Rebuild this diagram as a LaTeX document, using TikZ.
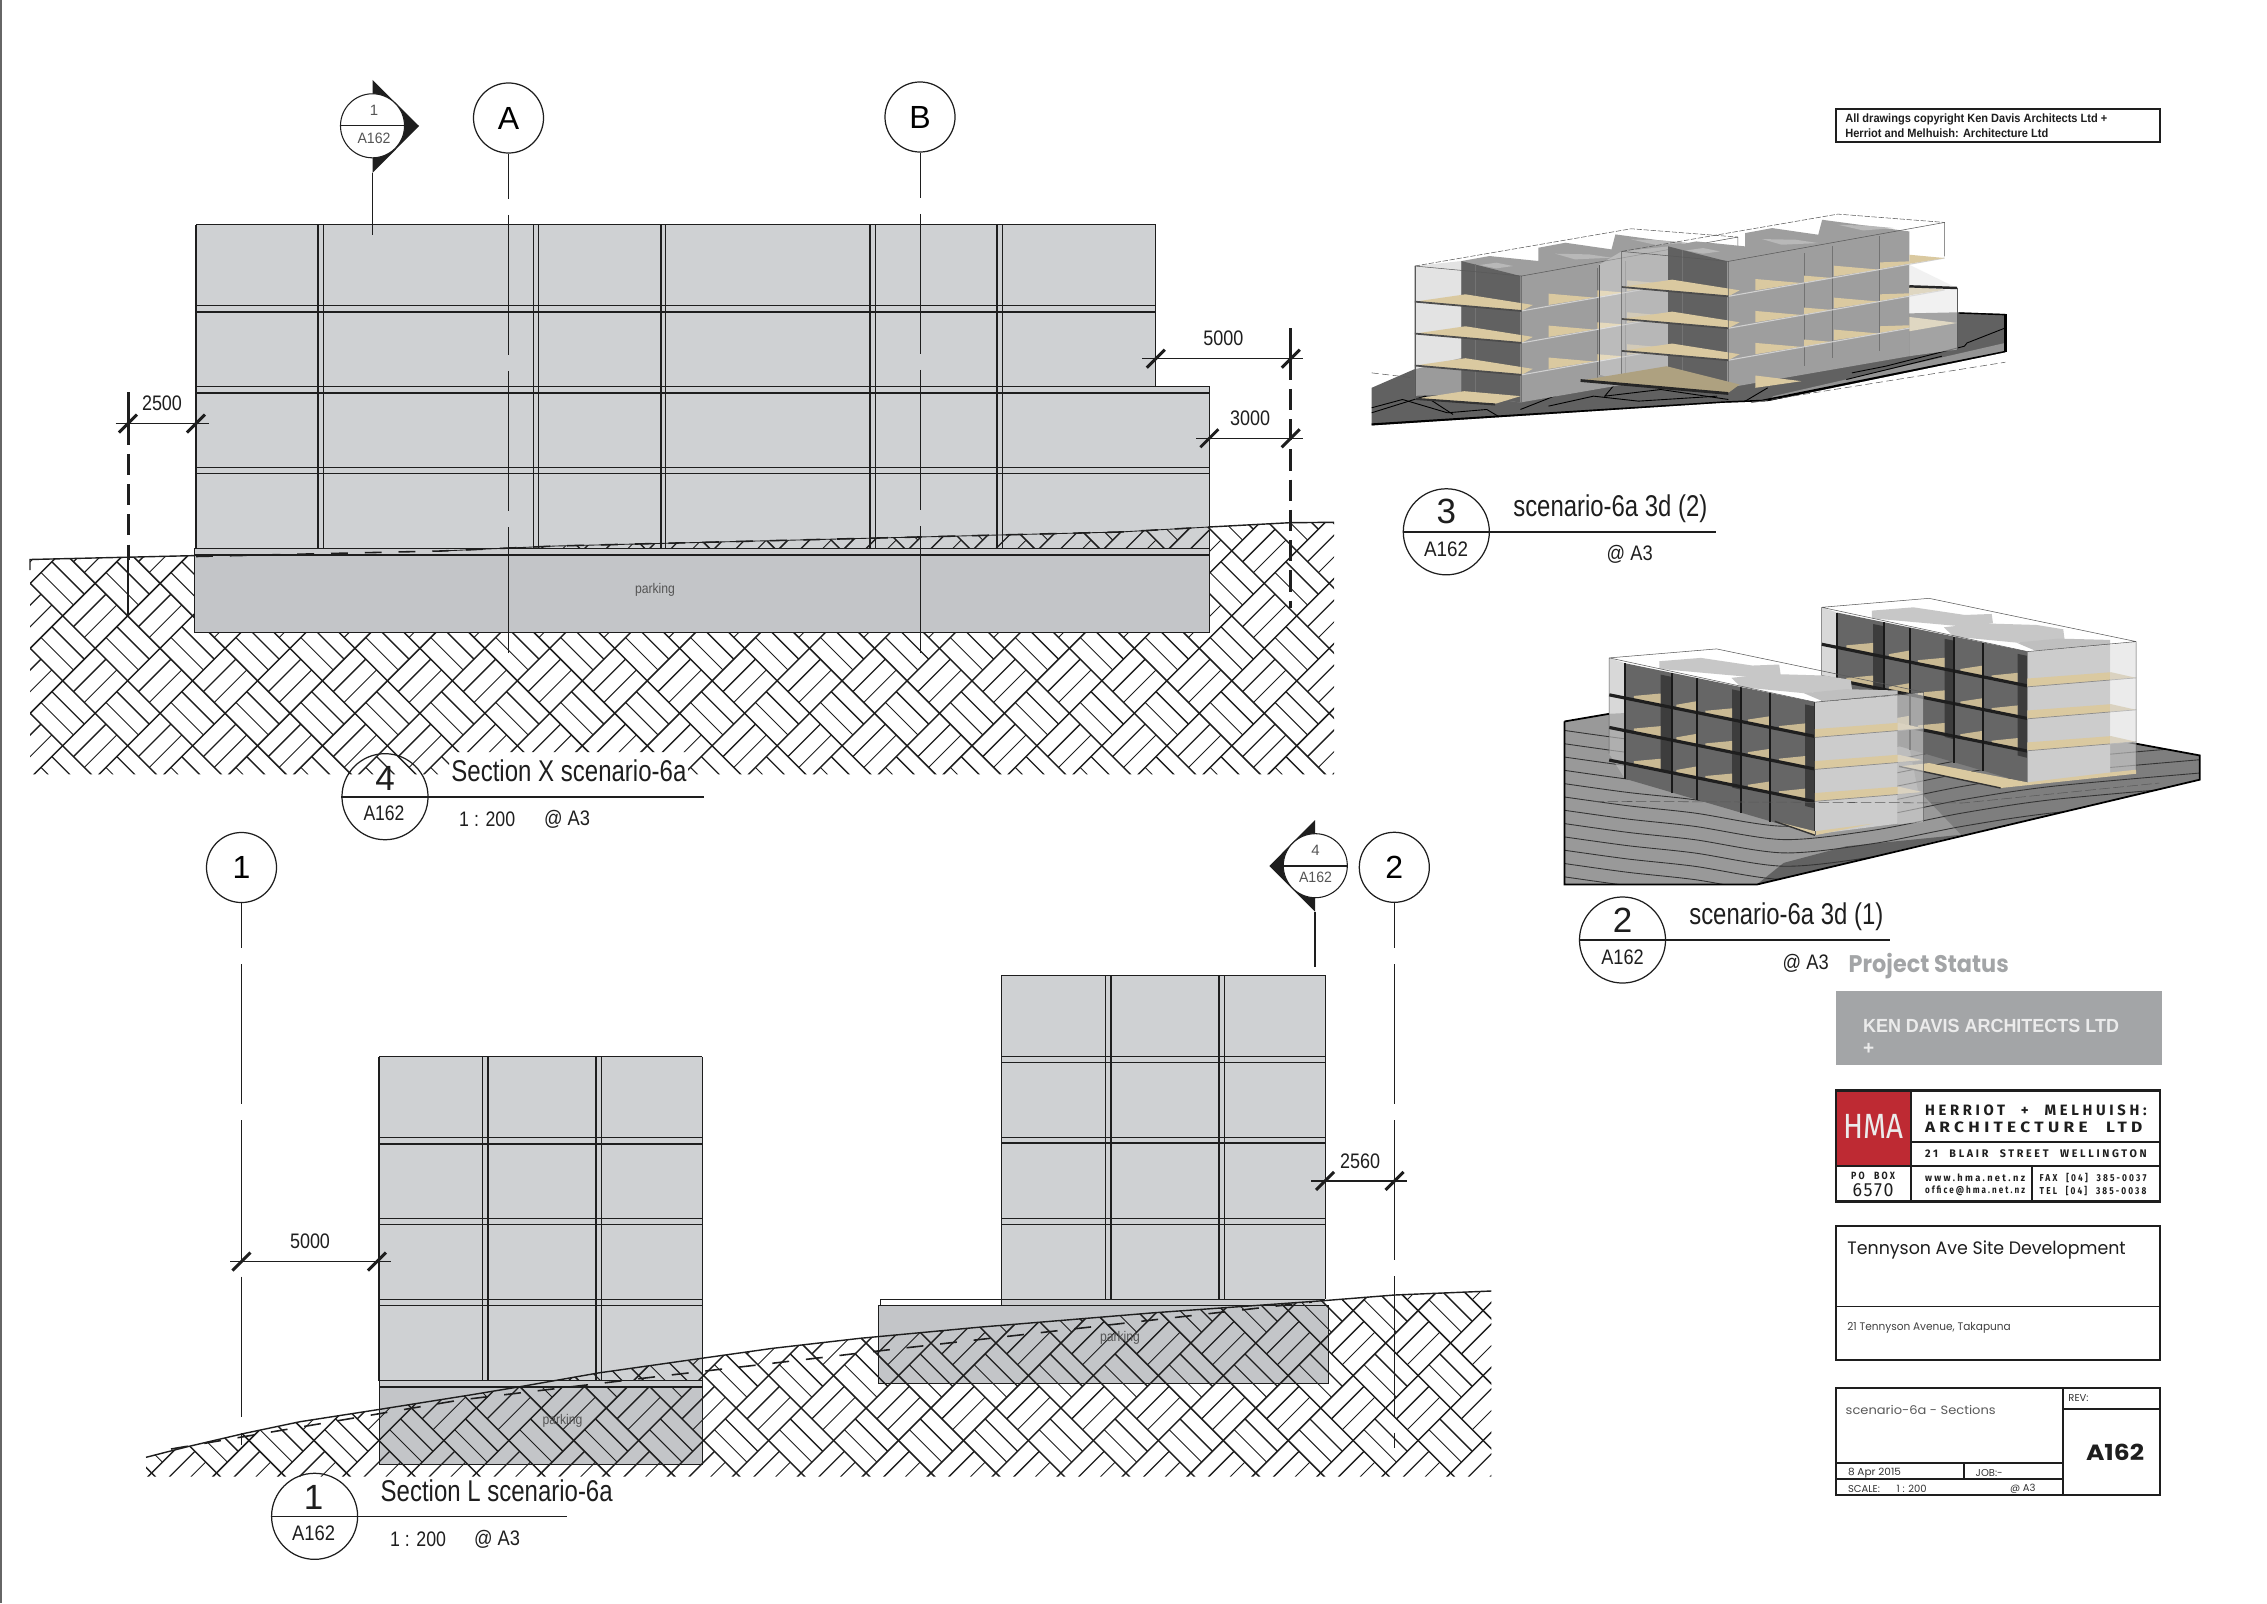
\documentclass[tikz,border=0pt]{standalone}
\usepackage{fontspec}
\usepackage{graphicx}
\setmainfont{Liberation Sans}
\newfontfamily\goth{Poppins}
\newfontfamily\hmawide[LetterSpace=25,WordSpace=2.2]{Fira Sans}
\newfontfamily\hmaplain[LetterSpace=10]{Fira Sans}
\newfontfamily\hmalogo{Fira Sans}
\newlength\fwunit \setlength\fwunit{0.01cm}
\newcommand\fitw[2]{\resizebox{#1\fwunit}{\height}{#2}}
\newcommand\fs[1]{\pgfmathsetmacro\fsz{#1*0.2845}\fontsize{\fsz pt}{\fsz pt}\selectfont}
\definecolor{wallgray}{HTML}{CFD1D3}
\definecolor{parkgray}{HTML}{C3C5C8}
\definecolor{slabgray}{HTML}{CCCDCF}
\definecolor{inkk}{HTML}{1E1E1E}
\definecolor{tanfloor}{HTML}{DAC9A0}
\definecolor{graybox}{HTML}{A3A5A7}
\definecolor{hmared}{HTML}{BE2A33}
\definecolor{lightink}{HTML}{555555}
\tikzset{
 thinl/.style={line width=0.28pt,draw=inkk},
 medl/.style={line width=0.45pt,draw=inkk},
 heavyl/.style={line width=0.8pt,draw=inkk},
 gridline/.style={line width=0.26pt,draw=inkk,dash pattern=on 39.8pt off 4.6pt,dash phase=27pt},
 witness/.style={line width=0.8pt,draw=inkk,dash pattern=on 6pt off 2.6pt},
 dimline/.style={line width=0.4pt,draw=inkk},
 tickl/.style={line width=0.85pt,draw=inkk},
 gbubble/.style={circle,draw=inkk,line width=0.35pt,fill=white,minimum size=0.7cm,inner sep=0pt,font=\fs{32}},
 tbubble/.style={circle,draw=inkk,line width=0.35pt,minimum size=0.86cm,inner sep=0pt},
 lbl/.style={inner sep=0pt,text=inkk,anchor=west,yshift=-0.35pt},
 ctr/.style={inner sep=0pt,text=inkk,anchor=center},
 groundl/.style={line width=0.4pt,draw=inkk},
 dashg/.style={line width=0.45pt,draw=inkk,dash pattern=on 4.8pt off 4.8pt},
 wire/.style={line width=0.15pt,draw=black!65},
}
% basket-weave earth hatch
\newcommand\basket[8]{% x0 y0 imin imax jmin jmax ymin ymax
 \foreach \i in {#3,...,#4}{\foreach \j in {#5,...,#6}{
  \pgfmathsetmacro\cx{#1+64.95*\i}\pgfmathsetmacro\cy{#2+64.95*\j}
  \foreach \k/\w in {1/0.38pt,2/0.26pt}{
   \pgfmathsetmacro\o{\k*10.825}
   \draw[line width=\w,inkk] (\cx-32.475+\o,\cy+\o) -- (\cx+\o,\cy-32.475+\o);
   \draw[line width=\w,inkk] (\cx+32.475-\o,\cy+\o) -- (\cx+64.95-\o,\cy+32.475+\o);
  }
 }}
 \pgfmathsetmacro\cbase{#1+#2-32.475}\pgfmathsetmacro\dbase{#1-#2+32.475}
 \foreach \n in {-30,...,40}{
   \pgfmathsetmacro\cc{\cbase+64.95*\n}\pgfmathsetmacro\dd{\dbase+64.95*\n}
   \draw[line width=0.42pt,inkk] (\cc-#7,#7) -- (\cc-#8,#8);
   \draw[line width=0.42pt,inkk] (\dd+#7,#7) -- (\dd+#8,#8);
 }
}
% view 3 block
\newcommand\vthree{%
 \fill[black!20,opacity=.55] (430,515) -- (513,500) -- (513,900) -- (430,905) -- cycle;
 \fill[fill=black!38] (513,500) -- (563,485) -- (650,500) -- (650,460) -- (698,445) -- (780,465) -- (787,420) -- (942,455) -- (942,830) -- (618,925) -- (513,900) -- cycle;
 \fill[fill=black!62] (513,500) -- (618,545) -- (618,925) -- (513,900) -- cycle;
 \fill[fill=black!28] (545,512) -- (575,505) -- (605,515) -- (575,522) -- cycle;
 \fill[fill=black!28] (680,478) -- (740,480) -- (780,490) -- (715,495) -- cycle;
 \fill[fill=black!28] (815,435) -- (870,438) -- (915,445) -- (860,452) -- cycle;
 \draw[line width=.15pt,black!55] (538,510) -- (538,915) (755,520) -- (755,860) (805,500) -- (805,835) (888,470) -- (888,815);
 \foreach \dy in {0,96,192}{
  \fill[tanfloor] (430,622+\dy) -- (520,600+\dy) -- (640,632+\dy) -- (620,650+\dy) -- cycle;
  \draw[line width=.5pt,black!70] (430,622+\dy) -- (620,650+\dy);
  \fill[tanfloor] (668,598+\dy) -- (750,610+\dy) -- (668,632+\dy) -- cycle;
  \fill[tanfloor] (755,588+\dy) -- (805,595+\dy) -- (755,608+\dy) -- cycle;
  \fill[tanfloor] (808,558+\dy) -- (890,570+\dy) -- (808,590+\dy) -- cycle;
  \fill[tanfloor] (890,548+\dy) -- (942,545+\dy) -- (942,552+\dy) -- (890,568+\dy) -- cycle;
  \draw[line width=.3pt,black!18] (620,650+\dy) -- (1005,535+\dy);
 }
 \foreach \dy in {0,95}{\fill[tanfloor] (942,525+\dy) -- (1005,535+\dy) -- (942,552+\dy) -- cycle;}
 \draw[wire,dash pattern=on 1.5pt off .5pt] (430,515) -- (815,403) -- (1005,428);
 \draw[wire] (430,515) -- (620,545) -- (1005,428) (620,545) -- (620,925) (430,515) -- (430,905) (1005,428) -- (1005,530);
}
% view 2 block
\newcommand\vtwo{%
 \fill[black!25,opacity=.6] (585,52) -- (620,68) -- (620,415) -- (585,340) -- cycle;
 \fill[black!60] (620,68) -- (1045,185) -- (1045,582) -- (620,415) -- cycle;
 \foreach \a/\b in {700/725,860/880,1023/1045}{
   \fill[black!76] (\a,{68+(\a-620)*.2776+12}) -- (\b,{68+(\b-620)*.2776+12}) -- (\b,{360+(\b-620)*.34}) -- (\a,{360+(\a-620)*.34}) -- cycle;
 }
 \foreach \dy in {0,98,196}{
  \foreach \a/\b in {640/700,735/782,800/860,895/945,965/1023}{
    \fill[tanfloor!92!black] (\a,{163+\dy+(\a-585)*.2783-12}) -- (\b,{163+\dy+(\b-585)*.2783-36}) -- (\b,{163+\dy+(\b-585)*.2783}) -- (\a,{163+\dy+(\a-585)*.2783}) -- cycle;
  }
 }
 \foreach \dy in {0,98,196}{
  \draw[line width=.9pt,black!88] (585,163+\dy) -- (1045,288+\dy);
 }
 \foreach \m in {620,725,782,880,945,1045}{
  \draw[line width=.55pt,black!90] (\m,{68+(\m-620)*.2776}) -- (\m,{415+(\m-620)*.4});
 }
 \fill[black!20] (1045,185) -- (1230,165) -- (1230,550) -- (1045,582) -- cycle;
 \fill[black!22] (697,62) -- (790,52) -- (905,75) -- (965,72) -- (968,100) -- (905,110) -- (697,85) -- cycle;
 \fill[black!22] (858,112) -- (940,100) -- (1065,105) -- (1125,118) -- (1128,150) -- (1020,158) -- (880,140) -- cycle;
 \fill[black!25] (1020,158) -- (1115,146) -- (1230,150) -- (1230,165) -- (1062,182) -- cycle;
 \foreach \dy in {0,96,192}{
  \fill[tanfloor] (1045,266+\dy) -- (1232,247+\dy) -- (1288,264+\dy) -- (1045,291+\dy) -- cycle;
  \draw[line width=.2pt,black!45] (1045,291+\dy) -- (1288,264+\dy);
 }
 \fill[black!14,opacity=.55] (1230,165) -- (1288,155) -- (1288,545) -- (1230,552) -- cycle;
 \draw[wire] (585,52) -- (825,25) -- (1288,155) -- (1288,545) (585,52) -- (1045,185) -- (1288,155) (585,52) -- (585,340);
}
\begin{document}
\begin{tikzpicture}[x=0.01cm,y=-0.01cm]
\useasboundingbox (0,0) rectangle (2267,1603);
\fill[white] (0,0) rectangle (2267,1603);
\draw[line width=.4pt,black!60] (1,0) -- (1,1603);

%%%%%%%%%%%%%%% Section X
\fill[wallgray] (196,224.5) -- (1155.7,224.5) -- (1155.7,386.3) -- (1209.5,386.3) -- (1209.5,548.3) -- (196,548.3) -- cycle;
\foreach \a in {305.3,386.8,467.6}{\draw[thinl] (196,\a) -- (1155.7,\a);}
\foreach \a in {311.8}{\draw[medl] (196,\a) -- (1155.7,\a);}
\foreach \a in {393,473.7}{\draw[medl] (196,\a) -- (1209.5,\a);}
\draw[thinl] (1155.7,467.6) -- (1209.5,467.6);
\foreach \a/\b in {318/323.2,533.6/538.2,660.7/665,870/875,997/1002}{
 \draw[medl] (\a,224.5) -- (\a,548.3);
 \draw[thinl] (\b,224.5) -- (\b,548.3);
}
\draw[thinl] (196,224.5) -- (1155.7,224.5) -- (1155.7,386.3);
\draw[thinl] (1155.7,386.3) -- (1209.5,386.3) -- (1209.5,548.3);
\draw[heavyl,line width=.55pt] (196,224.5) -- (196,548.3);
\begin{scope}
\clip (30,559.5) -- (195,555.6) -- (441,551) -- (556,546) -- (1120,532) -- (1209,527) -- (1290,522.7) -- (1334,522.3) -- (1334,774.3) -- (688,774.3) -- (688,752) -- (449,752) -- (449,774.3) -- (30,774.3) -- cycle;
\basket{290}{680.8}{-5}{17}{-3}{2}{510}{790}
\end{scope}
\fill[parkgray] (194.3,555) rectangle (1209.3,632.3);
\fill[slabgray] (194.3,548.3) rectangle (1209.3,555);
\draw[medl] (194.3,632.3) -- (194.3,548.3);
\draw[thinl] (194.3,548.3) -- (1209.3,548.3) -- (1209.3,632.3) -- (194.3,632.3);
\draw[medl,line width=.5pt] (194.3,555) -- (1209.3,555);
\draw[groundl] (30,570) -- (30,559.5) -- (195,555.6);
\draw[line width=.25pt,inkk] (441,551) -- (556,546) -- (1120,532) -- (1209,527);
\draw[groundl] (1209,527) -- (1290,522.7) -- (1334,522.3);
\draw[dashg] (196,556.5) -- (441,551) -- (556,546) -- (1120,532) -- (1209,527);
\node[ctr,text=lightink,font=\fs{14}] (parkx) at (655,590) {\fitw{40}{parking}};

% grid A, B
\node[gbubble] (gA) at (508.5,118) {A};
\coordinate (gAend) at (508.5,653);
\draw[gridline] (gA) -- (gAend);
\node[gbubble] (gB) at (920,117) {B};
\coordinate (gBend) at (920,653);
\draw[gridline] (gB) -- (gBend);

% section marker 1
\fill[inkk] (372.5,80) -- (419,126) -- (372.5,173) -- cycle;
\node[circle,draw=inkk,line width=.3pt,fill=white,minimum size=0.64cm,inner sep=0pt] (mk1) at (372.5,125.8) {};
\draw[thinl] (mk1.west) -- (mk1.east);
\node[ctr,text=lightink,font=\fs{15}] (mk1a) at (374,110) {1};
\node[ctr,text=lightink,font=\fs{15}] (mk1b) at (374,138) {\fitw{33}{A162}};
\coordinate (mk1e) at (372.5,234.5);
\draw[line width=.45pt,inkk] (372.5,173) -- (mk1e);

% dims section X
\coordinate (w1a) at (128.2,392); \coordinate (w1b) at (128.2,423.6); \coordinate (w1c) at (128.2,617);
\draw[line width=.8pt,inkk] (w1a) -- (w1b);
\draw[witness] (w1b) -- (128.2,560);
\draw[line width=.55pt,inkk] (128.2,560) -- (w1c);
\coordinate (d1a) at (115.7,423.6); \coordinate (d1b) at (209.3,423.6);
\draw[dimline] (d1a) -- (d1b);
\draw[tickl] (119,432.6) -- (137,414.6);
\draw[tickl] (187,432.6) -- (205,414.6);
\node[ctr,font=\fs{21}] (t2500) at (162,403) {\fitw{40}{2500}};

\coordinate (w2a) at (1290.7,328); \coordinate (w2b) at (1290.7,358.7); \coordinate (w2c) at (1290.7,608);
\draw[line width=.8pt,inkk] (w2a) -- (w2b);
\draw[witness] (w2b) -- (w2c);
\coordinate (d2a) at (1142.3,358.7); \coordinate (d2b) at (1303.3,358.7);
\draw[dimline] (d2a) -- (d2b);
\draw[tickl] (1146.7,367.7) -- (1164.7,349.7);
\draw[tickl] (1281.7,367.7) -- (1299.7,349.7);
\node[ctr,font=\fs{21}] (t5000a) at (1223.3,338) {\fitw{40}{5000}};
\coordinate (d3a) at (1196,438.3); \coordinate (d3b) at (1303.3,438.3);
\draw[dimline] (d3a) -- (d3b);
\draw[tickl] (1200.3,447.3) -- (1218.3,429.3);
\draw[tickl] (1281.7,447.3) -- (1299.7,429.3);
\node[ctr,font=\fs{21}] (t3000) at (1250,418) {\fitw{40}{3000}};

% title 4
\node[tbubble] (tb4) at (385,796.7) {};
\coordinate (tl4) at (704,796.7);
\draw[line width=.6pt,inkk] (tb4.west) -- (tl4);
\node[ctr,font=\fs{35}] (tb4n) at (385,778) {4};
\node[ctr,font=\fs{21}] (tb4s) at (384,813.5) {\fitw{41}{A162}};
\node[lbl,font=\fs{30}] (tt4) at (450.7,770) {\fitw{235}{Section X scenario-6a}};
\node[lbl,font=\fs{21}] (tt4a) at (458.5,818) {\fitw{56}{1 : 200}};
\node[lbl,font=\fs{21}] (tt4b) at (543.4,818) {\fitw{46}{@ A3}};

%%%%%%%%%%%%%%% Section L buildings
% left building
\fill[wallgray] (379,1056.7) rectangle (702.3,1380.7);
\foreach \a/\b in {1137.7/1143.7,1218.3/1224.3,1299.3/1305.3}{
 \draw[thinl] (379,\a) -- (702.3,\a);
 \draw[medl] (379,\b) -- (702.3,\b);
}
\draw[thinl] (482.7,1056.7) -- (482.7,1380.7);
\draw[medl] (488,1056.7) -- (488,1380.7);
\draw[medl] (595.7,1056.7) -- (595.7,1380.7);
\draw[thinl] (601.3,1056.7) -- (601.3,1380.7);
\draw[thinl] (379,1056.7) -- (702.3,1056.7);
\draw[line width=.65pt,inkk] (379,1056.7) -- (379,1380.7);
\draw[medl] (702.3,1056.7) -- (702.3,1380.7);
\fill[parkgray] (379.3,1386.7) rectangle (702.5,1464);
% right building
\fill[wallgray] (1001.8,975.3) rectangle (1325.4,1299.3);
\foreach \a/\b/\w in {1056.3/1062.3/.35pt,1137.3/1143.3/.6pt,1218.3/1224.3/.35pt}{
 \draw[thinl] (1001.8,\a) -- (1325.4,\a);
 \draw[line width=\w,inkk] (1001.8,\b) -- (1325.4,\b);
}
\draw[thinl] (1105.4,975.3) -- (1105.4,1299.3);
\draw[medl] (1110.8,975.3) -- (1110.8,1299.3);
\draw[medl] (1219,975.3) -- (1219,1299.3);
\draw[thinl] (1224.5,975.3) -- (1224.5,1299.3);
\draw[thinl] (1001.8,975.3) -- (1325.4,975.3) -- (1325.4,1299.3);
\draw[thinl] (1001.8,975.3) -- (1001.8,1299.3);
\fill[parkgray] (878.5,1305.3) rectangle (1328.4,1383.3);
\fill[slabgray] (1001.8,1299.3) rectangle (1325.4,1305.3);
\begin{scope}
\clip (146,1457.3) -- (187.4,1446.7) -- (244.8,1433.3) -- (300,1421.7) -- (380,1409.3) -- (470,1395) -- (520,1386.7) -- (598,1373) -- (701.6,1358.3) -- (772.8,1348.3) -- (860,1338.3) -- (978,1327.3) -- (1154.6,1312.7) -- (1323,1300.7) -- (1394.5,1295) -- (1491.3,1291) -- (1491.3,1476.7) -- (146,1476.7) -- cycle;
\basket{1028.4}{1408}{-14}{8}{-2}{1}{1280}{1490}
\end{scope}
% slab & parking outlines
\fill[slabgray] (379,1380.7) rectangle (702.5,1386.7);
\draw[thinl] (379,1380.7) rectangle (702.5,1386.7);
\draw[medl] (379,1386.7) -- (702.5,1386.7);
\draw[thinl] (379.3,1386.7) -- (379.3,1464) -- (702.5,1464) -- (702.5,1386.7);
\draw[thinl,fill=white] (880,1299.3) rectangle (1001.8,1305.3);
\draw[medl] (1001.8,1299.3) -- (1325.4,1299.3);
\draw[medl] (878.5,1305.3) -- (1328.4,1305.3);
\draw[thinl] (878.5,1305.3) -- (878.5,1383.3) -- (1328.4,1383.3) -- (1328.4,1305.3);
\draw[groundl] (146,1457.3) -- (187.4,1446.7) -- (244.8,1433.3) -- (300,1421.7) -- (380,1409.3) -- (470,1395) -- (520,1386.7) -- (598,1373) -- (701.6,1358.3) -- (772.8,1348.3) -- (860,1338.3) -- (978,1327.3) -- (1154.6,1312.7) -- (1323,1300.7) -- (1394.5,1295) -- (1491.3,1291);
\draw[dashg] (171,1449) -- (460,1400) -- (662,1376) -- (835,1356) -- (860,1353) -- (1312,1302);
\node[ctr,text=lightink,font=\fs{14}] (parkl) at (562.5,1420.7) {\fitw{40}{parking}};
\node[ctr,text=lightink,font=\fs{14}] (parkr) at (1120,1337.7) {\fitw{40}{parking}};

% grids 1, 2
\node[gbubble] (g1) at (241.5,867.5) {1};
\coordinate (g1e) at (241.5,1445);
\draw[gridline] (g1) -- (g1e);
\node[gbubble] (g2) at (1394.3,867.3) {2};
\coordinate (g2e) at (1394.3,1448);
\draw[gridline] (g2) -- (g2e);

% section marker 4
\fill[inkk] (1315,820) -- (1269.3,866) -- (1315,911.7) -- cycle;
\node[circle,draw=inkk,line width=.3pt,fill=white,minimum size=0.64cm,inner sep=0pt] (mk4) at (1315.3,865.7) {};
\draw[medl] (mk4.west) -- (mk4.east);
\node[ctr,text=lightink,font=\fs{15}] (mk4a) at (1315.5,850) {4};
\node[ctr,text=lightink,font=\fs{15}] (mk4b) at (1315.5,877) {\fitw{33}{A162}};
\coordinate (mk4e) at (1315,967.3);
\draw[line width=.5pt,inkk] (1315,911.7) -- (mk4e);

% dims
\coordinate (d4a) at (230,1261.5); \coordinate (d4b) at (390.7,1261.5);
\draw[dimline] (d4a) -- (d4b);
\draw[tickl] (232.5,1270.5) -- (250.5,1252.5);
\draw[tickl] (368,1270.5) -- (386,1252.5);
\node[ctr,font=\fs{21}] (t5000b) at (310,1241.5) {\fitw{40}{5000}};
\coordinate (d5a) at (1311,1181); \coordinate (d5b) at (1407,1181);
\draw[dimline] (d5a) -- (d5b);
\draw[tickl] (1316,1190) -- (1334,1172);
\draw[tickl] (1385.5,1190) -- (1403.5,1172);
\node[ctr,font=\fs{21}] (t2560) at (1360,1161.5) {\fitw{40}{2560}};

% title 1
\node[tbubble] (tb1) at (314.6,1516.3) {};
\coordinate (tl1) at (567,1516.3);
\draw[line width=.42pt,inkk] (tb1.west) -- (tl1);
\node[ctr,font=\fs{35}] (tb1n) at (313.6,1497) {1};
\node[ctr,font=\fs{21}] (tb1s) at (313.6,1532.8) {\fitw{43}{A162}};
\node[lbl,font=\fs{30}] (tt1) at (380,1490) {\fitw{232}{Section L scenario-6a}};
\node[lbl,font=\fs{21}] (tt1a) at (389.4,1538.3) {\fitw{56}{1 : 200}};
\node[lbl,font=\fs{21}] (tt1b) at (473.4,1538.3) {\fitw{46}{@ A3}};

%%%%%%%%%%%%%%% view 3
\begin{scope}[shift={(1380,80)},x=0.005618cm,y=-0.003333cm]
\begin{scope}
\clip (-15,1038) -- (-15,925) -- (60,870) -- (430,720) -- (1030,698) -- (1113,703) -- (1113,818) -- (690,965) -- (610,970) -- cycle;
\fill[black!62] (-15,1038) -- (-15,925) -- (60,870) -- (430,720) -- (1030,698) -- (1113,703) -- (1113,818) -- (690,965) -- (610,970) -- cycle;
\fill[black!42] (700,950) -- (1113,790) -- (1113,818) -- (690,965) -- cycle;
\draw[line width=.25pt,black] (-15,985) -- (40,960) -- (120,1000) -- (190,990) -- (210,1010);
\draw[line width=.25pt,black] (-15,1000) -- (80,950) -- (130,1005);
\draw[line width=.25pt,black] (250,990) -- (340,930) -- (420,910) -- (400,950) -- (500,930) -- (620,960);
\draw[line width=.25pt,black] (300,980) -- (380,950) -- (460,965) -- (600,950);
\draw[line width=.25pt,black] (840,880) -- (900,860) -- (1040,800) -- (1045,790) -- (1113,745);
\draw[line width=.25pt,black] (830,900) -- (1000,830);
\draw[line width=.25pt,black] (650,965) -- (690,925);
\draw[line width=.8pt,black] (-15,1036) -- (610,970) -- (680,965) -- (1113,818);
\draw[line width=.8pt,black] (1030,698) -- (1113,703);
\end{scope}
\draw[line width=.8pt,black] (1113,703) -- (1113,818);
\draw[wire,dash pattern=on 2pt off 1pt] (660,970) -- (1113,848);
\draw[wire,dash pattern=on 2pt off 1pt] (-15,880) -- (60,895);
\begin{scope}[shift={(-368,44)}]\vthree\end{scope}
\fill[tanfloor] (62,958) -- (150,935) -- (250,950) -- (205,973) -- cycle;
\draw[line width=.6pt,black!80] (62,958) -- (205,975);
\draw[wire] (62,558) -- (62,960);
\fill[white,opacity=.3] (390,555) -- (430,515) -- (430,905) -- (390,885) -- cycle;
\draw[wire] (390,555) -- (390,885);
\vthree
\fill[tanfloor!80!black] (357,903) -- (510,860) -- (640,915) -- (620,940) -- cycle;
\draw[line width=.8pt,black!85] (357,903) -- (620,942);
\fill[tanfloor] (668,888) -- (750,905) -- (668,925) -- cycle;
\fill[tanfloor] (942,712) -- (1027,730) -- (942,755) -- cycle;
\fill[black!10,opacity=.5] (942,555) -- (1027,625) -- (1027,810) -- (942,830) -- cycle;
\draw[wire] (1027,625) -- (1027,810);
\draw[line width=.7pt,black!85] (942,620) -- (1027,625);
\end{scope}
\node[tbubble] (tb3) at (1446.3,531.8) {};
\coordinate (tl3) at (1716,531.8);
\draw[line width=.6pt,inkk] (tb3.west) -- (tl3);
\node[ctr,font=\fs{35}] (tb3n) at (1446.3,511.7) {3};
\node[ctr,font=\fs{21}] (tb3s) at (1446,548.8) {\fitw{44}{A162}};
\node[lbl,font=\fs{30}] (tt3) at (1512.6,507.7) {\fitw{194}{scenario-6a 3d (2)}};
\node[lbl,font=\fs{21}] (tt3b) at (1606,553.3) {\fitw{46}{@ A3}};

%%%%%%%%%%%%%%% view 2
\begin{scope}[shift={(1560,590)},x=0.004464cm,y=-0.003333cm]
\begin{scope}
\clip (10,395) -- (110,372) -- (760,330) -- (1430,497) -- (1430,570) -- (440,885) -- (10,885) -- cycle;
\fill[black!40] (10,395) -- (110,372) -- (760,330) -- (1430,497) -- (1430,570) -- (440,885) -- (10,885) -- cycle;
\fill[black!55,opacity=.7] (760,330) -- (1430,497) -- (1430,570) -- (900,740) -- (800,600) -- cycle;
\fill[black!70,opacity=.7] (440,885) -- (900,735) -- (640,770) -- (500,820) -- cycle;
\foreach \Y in {420,460,...,900}{
 \draw[line width=.25pt,black!80] plot[smooth] coordinates {(0,\Y) (150,\Y+28) (300,\Y+50) (500,\Y+90) (700,\Y+62) (900,\Y+10) (1100,\Y-30) (1430,\Y-70)};
}
\end{scope}
\draw[line width=.5pt,black] (10,395) -- (10,885) -- (440,885) -- (1430,570) -- (1430,497) -- (1200,440);
\draw[line width=.5pt,black] (10,395) -- (110,372);
\vtwo
\fill[tanfloor] (758,530) -- (825,520) -- (1045,578) -- (1232,548) -- (1288,540) -- (1288,552) -- (985,595) -- cycle;
\draw[line width=.4pt,black!80] (758,530) -- (985,595);
\begin{scope}[shift={(-475,152)}]\vtwo\end{scope}
\fill[tanfloor] (480,695) -- (570,725) -- (700,702) -- (570,737) -- cycle;
\draw[line width=.4pt,black!80] (480,695) -- (570,737);
\draw[line width=.25pt,black!60] (570,725) -- (570,737);
\draw[wire,dash pattern=on 3pt off 1pt] (75,635) -- (900,640) -- (1340,580);
\end{scope}
\node[tbubble] (tb2) at (1622.5,940) {};
\coordinate (tl2) at (1890,940);
\draw[line width=.6pt,inkk] (tb2.west) -- (tl2);
\node[ctr,font=\fs{35}] (tb2n) at (1622.5,920) {2};
\node[ctr,font=\fs{21}] (tb2s) at (1622.5,957.2) {\fitw{42.4}{A162}};
\node[lbl,font=\fs{30}] (tt2) at (1688.6,915.5) {\fitw{194}{scenario-6a 3d (1)}};
\node[lbl,font=\fs{21}] (tt2b) at (1782,961.7) {\fitw{46}{@ A3}};

%%%%%%%%%%%%%%% title block
\node[draw=inkk,line width=.6pt,minimum width=3.24cm,minimum height=.336cm,anchor=north west,inner sep=0pt] (copybox) at (1835,107.7) {};
\node[lbl,font=\fs{12}\bfseries] (copy1) at (1844.6,118.3) {\fitw{262}{All drawings copyright Ken Davis Architects Ltd +}};
\node[lbl,font=\fs{12}\bfseries] (copy2) at (1844.6,131.6) {\fitw{203}{Herriot and Melhuish: Architecture Ltd}};

\node[lbl,text=graybox,font=\goth\bfseries\fs{24}] (pstat) at (1848,965) {\fitw{160}{Project Status}};
\fill[graybox] (1836,990.7) rectangle (2162,1064.7);
\node[lbl,text=white!92!black,font=\fs{19}\bfseries] (kd1) at (1862.3,1025) {\fitw{256}{KEN DAVIS ARCHITECTS LTD}};
\node[lbl,text=white!92!black,font=\fs{19}\bfseries] (kd2) at (1862.3,1047.7) {+};

% HMA
\fill[hmared] (1836,1090.7) rectangle (1911,1165.7);
\draw[line width=.7pt,inkk] (1836,1090.7) rectangle (2160,1201.7);
\draw[line width=.5pt,inkk] (1911,1090.7) -- (1911,1201.7);
\draw[line width=.5pt,inkk] (1911,1142) -- (2160,1142);
\draw[line width=.5pt,inkk] (1836,1165.7) -- (2160,1165.7);
\draw[line width=.5pt,inkk] (2031.7,1165.7) -- (2031.7,1201.7);
\node[ctr,text=white!92!black,font=\hmalogo\fs{35}] (hmat) at (1873.5,1126.7) {\fitw{60}{HMA}};
\node[lbl,font=\hmawide\bfseries\fs{15}] (h1) at (1924.3,1109) {\fitw{221.7}{HERRIOT + MELHUISH:}};
\node[lbl,font=\hmawide\bfseries\fs{15}] (h2) at (1924.3,1126.3) {\fitw{217.4}{ARCHITECTURE LTD}};
\node[lbl,font=\hmawide\bfseries\fs{11}] (h3) at (1924.3,1152.7) {\fitw{221.7}{21 BLAIR STREET WELLINGTON}};
\node[ctr,font=\hmawide\bfseries\fs{10.5}] (h4) at (1873,1176) {\fitw{44}{PO BOX}};
\node[ctr,font=\hmaplain\fs{19}] (h5) at (1873,1190) {\fitw{41}{6570}};
\node[lbl,font=\hmawide\bfseries\fs{10}] (h6) at (1924.3,1176.7) {\fitw{100}{www.hma.net.nz}};
\node[lbl,font=\hmawide\bfseries\fs{10}] (h7) at (1924.3,1190) {\fitw{100}{office@hma.net.nz}};
\node[lbl,font=\hmawide\bfseries\fs{10}] (h8) at (2039,1176.7) {\fitw{106.7}{FAX [04] 385-0037}};
\node[lbl,font=\hmawide\bfseries\fs{10}] (h9) at (2039,1190) {\fitw{106.7}{TEL [04] 385-0038}};

% project box
\draw[line width=.5pt,inkk] (1836,1225.7) rectangle (2160,1360.3);
\draw[line width=.35pt,inkk] (1836,1306.3) -- (2160,1306.3);
\node[lbl,font=\goth\fs{18}] (pr1) at (1846.7,1249) {\fitw{278.3}{Tennyson Ave Site Development}};
\node[lbl,text=black!75,font=\goth\fs{11}] (pr2) at (1846.7,1326.5) {\fitw{163.3}{21 Tennyson Avenue, Takapuna}};

% sheet box
\draw[line width=.5pt,inkk] (1836,1387.7) rectangle (2160,1495.3);
\draw[line width=.5pt,inkk] (2062.7,1387.7) -- (2062.7,1495.3);
\draw[line width=.5pt,inkk] (2062.7,1409) -- (2160,1409);
\draw[line width=.5pt,inkk] (1836,1463) -- (2062.7,1463);
\draw[line width=.5pt,inkk] (1836,1478.7) -- (2062.7,1478.7);
\draw[line width=.5pt,inkk] (1964,1463) -- (1964,1478.7);
\node[lbl,text=black!65,font=\goth\fs{12}] (sh1) at (1845,1409) {\fitw{150}{scenario-6a - Sections}};
\node[lbl,text=black!80,font=\goth\fs{10}] (sh2) at (2067.7,1397) {REV:};
\node[ctr,font=\goth\bfseries\fs{22}] (sh3) at (2115,1452) {\fitw{58}{A162}};
\node[lbl,text=black!80,font=\goth\fs{10}] (sh4) at (1847.3,1471.7) {\fitw{53}{8 Apr 2015}};
\node[lbl,text=black!80,font=\goth\fs{10}] (sh5) at (1975,1471.7) {JOB:-};
\node[lbl,text=black!80,font=\goth\fs{10}] (sh6) at (1847.3,1487.3) {SCALE:};
\node[lbl,text=black!80,font=\goth\fs{10}] (sh7) at (1896,1487.3) {1 : 200};
\node[lbl,text=black!80,font=\goth\fs{10}] (sh8) at (2009.3,1487.3) {@ A3};
\end{tikzpicture}
\end{document}
